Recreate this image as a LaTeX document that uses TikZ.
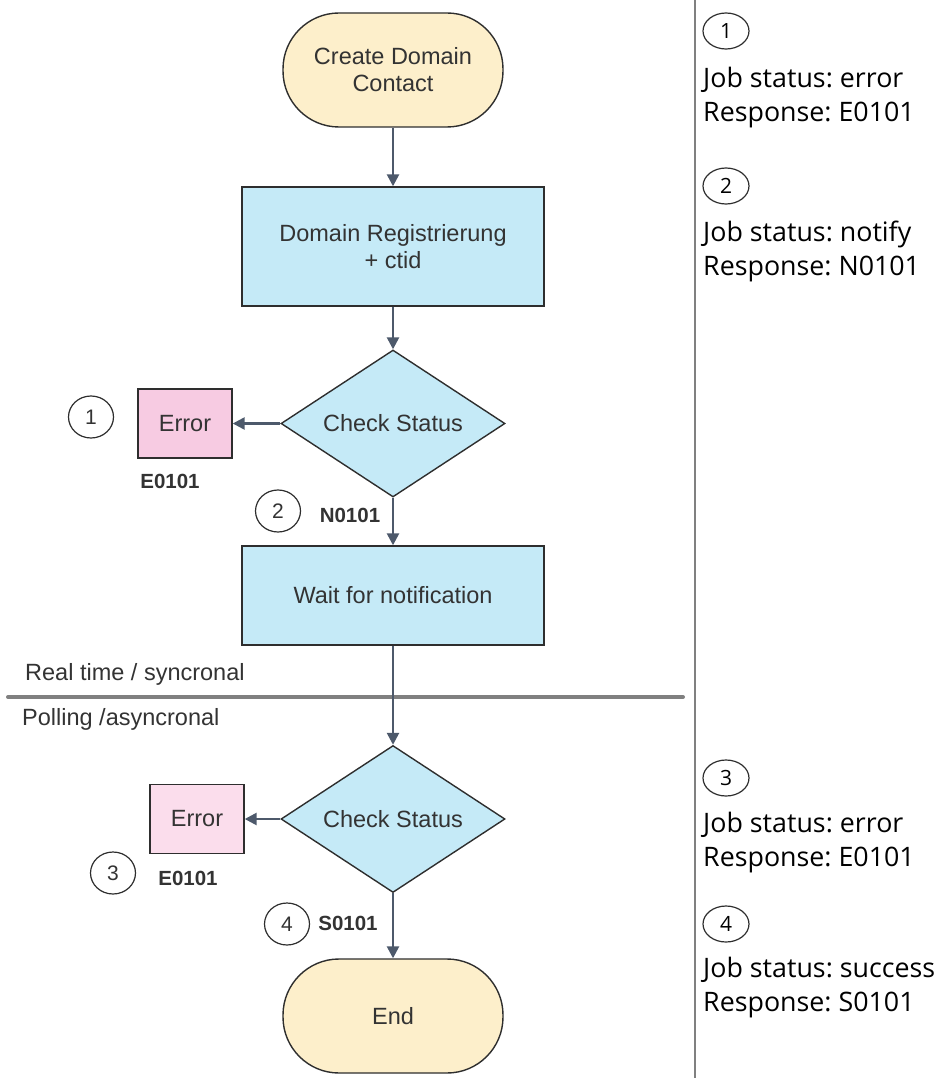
\documentclass[tikz,border=0pt]{standalone}
\usepackage{fontspec}
\setmainfont{Liberation Sans}
\newfontfamily\notefont{Open Sans}
\usetikzlibrary{shapes.geometric,arrows.meta}
\definecolor{termfill}{HTML}{FDEFCB}
\definecolor{procfill}{HTML}{C5EAF7}
\definecolor{errfillA}{HTML}{F7CBE2}
\definecolor{errfillB}{HTML}{FBDDEC}
\definecolor{edgec}{HTML}{2E2E2E}
\definecolor{flowc}{HTML}{4D596B}
\definecolor{txtc}{HTML}{333333}
\definecolor{rulec}{HTML}{808080}
\frenchspacing
\begin{document}
\begin{tikzpicture}[x=1pt,y=-1pt,
  base/.style={draw=edgec, line width=1.4pt, inner sep=0pt, align=center, text=txtc,
    font=\fontsize{23.5}{27}\selectfont},
  terminal/.style={base, fill=termfill, rectangle, rounded corners=56pt,
    minimum width=220pt, minimum height=114pt},
  process/.style={base, fill=procfill, rectangle, minimum width=302pt},
  decision/.style={base, fill=procfill, diamond, aspect=1.52,
    minimum width=224pt, minimum height=147pt},
  errbox/.style={base, rectangle, minimum width=94pt, minimum height=69pt},
  flowline/.style={draw=flowc, line width=2.5pt, -{Triangle[length=12pt,width=12pt]}},
  codelabel/.style={text=txtc, inner sep=0pt, font=\bfseries\fontsize{20.5}{24}\selectfont},
  marker/.style={draw=edgec, line width=1.2pt, ellipse, inner sep=0pt, text=txtc,
    minimum width=45pt, minimum height=42pt, font=\fontsize{21}{24}\selectfont},
  notemarker/.style={draw=edgec, line width=1.2pt, ellipse, inner sep=0pt, text=black,
    minimum width=46pt, minimum height=36pt, font=\notefont\fontsize{21}{24}\selectfont},
  note/.style={anchor=base west, inner sep=0pt, text=black,
    font=\notefont\fontsize{26.8}{30}\selectfont},
  phase/.style={anchor=west, inner sep=0pt, text=txtc, font=\fontsize{23.5}{27}\selectfont},
  rulerline/.style={draw=rulec, line width=4pt, line cap=round},
  divider/.style={draw=rulec, line width=2pt}
]
\useasboundingbox (0,0) rectangle (936,1078);

% flow chart
\node[terminal] (start) at (393,70) {Create Domain\\Contact};
\node[process, minimum height=119pt] (reg) at (393,246.5) {Domain Registrierung\\+ ctid};
\node[decision] (chk1) at (393,423.5) {Check Status};
\node[errbox, fill=errfillA] (err1) at (185,423.5) {Error};
\node[process, minimum height=99pt] (wait) at (393,595.5) {Wait for notification};
\node[decision] (chk2) at (393,819) {Check Status};
\node[errbox, fill=errfillB] (err2) at (197,819) {Error};
\node[terminal] (end) at (393,1016) {End};

% phase separator
\coordinate (sepL) at (8,697);
\coordinate (sepR) at (683,697);
\draw[rulerline] (sepL) -- (sepR);
\node[phase] (rt) at (25,674) {Real time / syncronal};
\node[phase] (pl) at (22,719) {Polling /asyncronal};

% connectors
\draw[flowline] (start) -- (reg);
\draw[flowline] (reg) -- (chk1);
\draw[flowline] (chk1) -- (err1);
\draw[flowline] (chk1) -- (wait);
\draw[flowline] (wait) -- (chk2);
\draw[flowline] (chk2) -- (err2);
\draw[flowline] (chk2) -- (end);

% outcome markers and response codes
\node[marker] (m1) at (91,417) {1};
\node[codelabel] (e1) at (170,481) {E0101};
\node[marker] (m2) at (278,511) {2};
\node[codelabel] (n1) at (350,515) {N0101};
\node[marker] (m3) at (113,873) {3};
\node[codelabel] (e2) at (188,878) {E0101};
\node[marker] (m4) at (287,924) {4};
\node[codelabel] (s1) at (348,923) {S0101};

% legend column
\coordinate (divT) at (695,0);
\coordinate (divB) at (695,1078);
\draw[divider] (divT) -- (divB);

\node[notemarker] (l1) at (726,31) {1};
\node[note] (l1a) at (703,88) {Job status: error};
\node[note] (l1b) at (703,122) {Response: E0101};

\node[notemarker] (l2) at (726,186) {2};
\node[note] (l2a) at (703,241) {Job status: notify};
\node[note] (l2b) at (703,275) {Response: N0101};

\node[notemarker] (l3) at (726,778) {3};
\node[note] (l3a) at (703,832) {Job status: error};
\node[note] (l3b) at (703,866) {Response: E0101};

\node[notemarker] (l4) at (726,924) {4};
\node[note] (l4a) at (703,977) {Job status: success};
\node[note] (l4b) at (703,1011) {Response: S0101};
\end{tikzpicture}
\end{document}
